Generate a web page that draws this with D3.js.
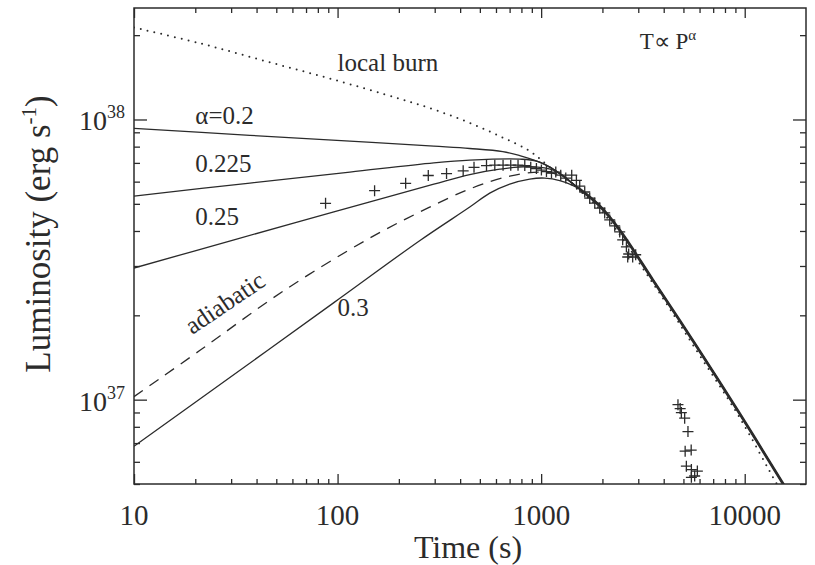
<!DOCTYPE html>
<html>
<head>
<meta charset="utf-8">
<script src="https://cdn.jsdelivr.net/npm/d3@7"></script>
<style>
  body { margin: 0; background: #fff; }
  svg { display: block; font-family: "Liberation Serif", "Times New Roman", serif; }
</style>
</head>
<body>
<svg id="chart" width="815" height="565"></svg>
<script>
// Model light curves, [time (s), luminosity (erg/s)], rise + plateau before the shared cooling tail
const alpha020  = [[10, 9.29e37], [37.1, 8.78e37], [115, 8.37e37], [297, 8.03e37], [446, 7.88e37], [648, 7.68e37], [785, 7.43e37], [951, 7.10e37], [1102, 6.76e37]];
const alpha0225 = [[10, 5.33e37], [37.1, 5.93e37], [115, 6.49e37], [297, 7.00e37], [446, 7.16e37], [785, 7.22e37], [951, 7.10e37], [1167, 6.60e37]];
const alpha025  = [[10, 2.95e37], [31, 3.72e37], [95.9, 4.68e37], [297, 5.88e37], [446, 6.36e37], [626, 6.65e37], [879, 6.79e37], [1167, 6.57e37]];
const adiabatic = [[10, 1.025e37], [21.1, 1.50e37], [54.5, 2.45e37], [139, 3.72e37], [254, 4.68e37], [446, 5.65e37], [701, 6.28e37], [984, 6.49e37], [1234, 6.33e37]];
const alpha030  = [[10, 6.82e36], [31, 1.23e37], [95.9, 2.22e37], [254, 3.70e37], [446, 4.87e37], [559, 5.46e37], [701, 5.88e37], [879, 6.13e37], [1042, 6.18e37], [1234, 6.05e37]];

// Late-time decline common to every model
const coolingTail = [[1547, 5.64e37], [1940, 4.91e37], [2432, 4.03e37], [3531, 2.68e37], [5873, 1.53e37], [9441, 8.92e36], [15350, 5.04e36], [17580, 4.28e36]];

// Local-burn comparison curve
const localBurn = [[10, 2.13e38], [21.1, 1.87e38], [45, 1.61e38], [94.8, 1.39e38], [202, 1.186e38], [294, 1.088e38], [431, 9.82e37], [626, 8.72e37], [879, 7.71e37], [1102, 6.76e37], [1382, 5.93e37], [1940, 4.79e37], [3531, 2.61e37], [5873, 1.476e37], [9441, 8.63e36], [14340, 5.02e36], [16060, 4.40e36]];

// Observed burst points
const observed = [
  [87.3, 5.02e37], [152, 5.57e37], [216, 5.92e37], [279, 6.31e37], [343, 6.41e37], [414, 6.56e37],
  [468, 6.75e37], [539, 6.85e37], [592, 6.87e37], [650, 6.87e37], [709, 6.87e37], [770, 6.87e37],
  [831, 6.85e37], [889, 6.76e37], [948, 6.68e37], [1003, 6.60e37], [1062, 6.52e37], [1124, 6.44e37],
  [1180, 6.49e37], [1248, 6.33e37], [1321, 6.18e37], [1413, 6.33e37], [1490, 6.06e37], [1547, 5.78e37],
  [1637, 5.51e37], [1732, 5.24e37], [1834, 5.03e37], [1940, 4.83e37], [2052, 4.64e37], [2172, 4.38e37],
  [2298, 4.17e37], [2432, 3.97e37], [2515, 3.72e37], [2623, 3.51e37], [2692, 3.31e37], [2816, 3.23e37],
  [2662, 3.23e37], [2913, 3.29e37],
  [4700, 9.60e36], [4818, 9.29e36], [4884, 8.99e36], [5070, 8.59e36], [5263, 7.69e36], [5098, 6.55e36],
  [5458, 6.61e36], [5168, 5.79e36], [5470, 5.63e36], [5853, 5.56e36], [5677, 5.34e36], [5470, 5.28e36]
];

// Axis ticks
const xMajorTicks = [10, 100, 1000, 10000];
const yMajorExponents = [37, 38];

const ink = "#2b2b2b";
const svg = d3.select("#chart");
const pL = 134, pR = 806, pT = 8, pB = 484;

const x = d3.scaleLog().domain([10, 20000]).range([pL, pR]);
const y = d3.scaleLog().domain([5e36, 2.5e38]).range([pB, pT]);

// minor tick values inside the domains
const xMinor = [], yMinor = [];
[10, 100, 1000, 10000].forEach(d => { for (let k = 2; k <= 9; k++) { const v = k * d; if (v < 20000) xMinor.push(v); } });
[1e36, 1e37, 1e38].forEach(d => { for (let k = 2; k <= 9; k++) { const v = k * d; if (v > 5e36 && v < 2.5e38) yMinor.push(v); } });
const yMajor = yMajorExponents.map(e => Math.pow(10, e));

svg.append("defs").append("clipPath").attr("id", "plot-clip")
  .append("rect").attr("x", pL).attr("y", pT).attr("width", pR - pL).attr("height", pB - pT);

// inward ticks on all four sides
function tickLayer(axisFn, scale, values, size, transform) {
  const g = svg.append("g").attr("transform", transform)
    .call(axisFn(scale).tickValues(values).tickSize(-size).tickFormat(""));
  g.select(".domain").remove();
  g.selectAll("line").attr("stroke", ink).attr("stroke-width", 1.3);
  return g;
}
tickLayer(d3.axisBottom, x, xMajorTicks, 10, `translate(0,${pB})`);
tickLayer(d3.axisBottom, x, xMinor, 5, `translate(0,${pB})`);
tickLayer(d3.axisTop, x, xMajorTicks, 10, `translate(0,${pT})`);
tickLayer(d3.axisTop, x, xMinor, 5, `translate(0,${pT})`);
tickLayer(d3.axisLeft, y, yMajor, 13, `translate(${pL},0)`);
tickLayer(d3.axisLeft, y, yMinor, 6, `translate(${pL},0)`);
tickLayer(d3.axisRight, y, yMajor, 13, `translate(${pR},0)`);
tickLayer(d3.axisRight, y, yMinor, 6, `translate(${pR},0)`);

// frame
svg.append("rect").attr("x", pL).attr("y", pT).attr("width", pR - pL).attr("height", pB - pT)
  .attr("fill", "none").attr("stroke", ink).attr("stroke-width", 1.5);

// x tick labels
svg.append("g").selectAll("text").data(xMajorTicks).join("text")
  .attr("x", d => x(d)).attr("y", pB + 41)
  .attr("text-anchor", "middle").attr("font-size", 29).attr("fill", ink)
  .text(d => d3.format("d")(d));

// y tick labels as powers of ten
const yLab = svg.append("g").selectAll("text").data(yMajorExponents).join("text")
  .attr("x", 125).attr("y", e => y(Math.pow(10, e)) + 11)
  .attr("text-anchor", "end").attr("fill", ink).attr("font-size", 28);
yLab.append("tspan").text("10");
yLab.append("tspan").attr("font-size", 18).attr("dy", -12).text(e => e);

// axis titles
svg.append("text").attr("x", 468).attr("y", 558).attr("text-anchor", "middle")
  .attr("font-size", 32).attr("fill", ink).text("Time (s)");
const yt = svg.append("text").attr("transform", "translate(50,234) rotate(-90)")
  .attr("text-anchor", "middle").attr("font-size", 35).attr("fill", ink);
yt.append("tspan").text("Luminosity (erg s");
yt.append("tspan").attr("font-size", 21).attr("dy", -14).text("-1");
yt.append("tspan").attr("dy", 14).text(")");

// curves
const line = d3.line().x(d => x(d[0])).y(d => y(d[1])).curve(d3.curveCatmullRom.alpha(0.5));
const plot = svg.append("g").attr("clip-path", "url(#plot-clip)");

plot.append("path").datum(localBurn).attr("d", line)
  .attr("fill", "none").attr("stroke", ink).attr("stroke-width", 2)
  .attr("stroke-linecap", "round").attr("stroke-dasharray", "0,7");

plot.append("path").datum(adiabatic.concat(coolingTail)).attr("d", line)
  .attr("fill", "none").attr("stroke", ink).attr("stroke-width", 1.3)
  .attr("stroke-dasharray", "11,8");

[alpha020, alpha0225, alpha025, alpha030].forEach(c => {
  plot.append("path").datum(c.concat(coolingTail)).attr("d", line)
    .attr("fill", "none").attr("stroke", ink).attr("stroke-width", 1.3);
});
// the overlapping model tails read as one heavier line
plot.append("path").datum(coolingTail).attr("d", line)
  .attr("fill", "none").attr("stroke", ink).attr("stroke-width", 2.8);

// observed points as plus markers
plot.append("g").selectAll("path").data(observed).join("path")
  .attr("transform", d => `translate(${x(d[0])},${y(d[1])})`)
  .attr("d", "M-5.5,0H5.5M0,-5.5V5.5")
  .attr("stroke", ink).attr("stroke-width", 1.3).attr("fill", "none");

// annotations
const note = (t, L, str, size) => svg.append("text")
  .attr("x", x(t)).attr("y", y(L)).attr("font-size", size).attr("fill", ink).text(str);
note(100, 1.486e38, "local burn", 25);
note(20, 9.67e37, "α=0.2", 25);
note(20, 6.51e37, "0.225", 25);
note(20, 4.20e37, "0.25", 25);
note(100, 1.99e37, "0.3", 25);
svg.append("text")
  .attr("transform", `translate(${x(19.3)},${y(1.70e37)}) rotate(-34)`)
  .attr("font-size", 25).attr("fill", ink).text("adiabatic");
const tp = svg.append("text").attr("x", x(3048)).attr("y", y(1.79e38))
  .attr("font-size", 23).attr("fill", ink);
tp.append("tspan").text("T∝ P");
tp.append("tspan").attr("font-size", 15).attr("dy", -9).text("α");
</script>
</body>
</html>
